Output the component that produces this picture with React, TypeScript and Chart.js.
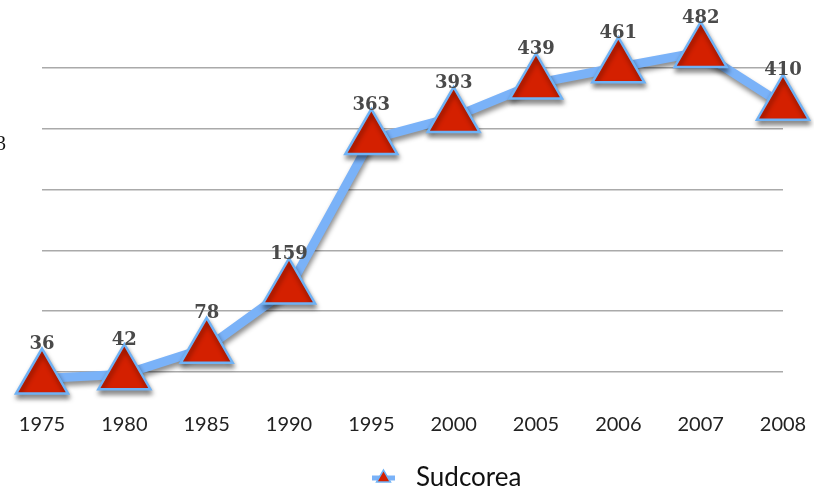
import React, { useEffect, useRef } from "react";
import { Chart, registerables } from "chart.js";

Chart.register(...registerables);

const years = ["1975", "1980", "1985", "1990", "1995", "2000", "2005", "2006", "2007", "2008"];
const sudcorea = [36, 42, 78, 159, 363, 393, 439, 461, 482, 410];
const seriesName = "Sudcorea";

const LINE_COLOR = "#7ab2f8";
const FILL_COLOR = "#d42000";
const BORDER_COLOR = "#6fb2f5";

const shadowPlugin = {
  id: "shadow",
  beforeDatasetsDraw(chart: any) {
    const ctx = chart.ctx;
    ctx.save();
    ctx.shadowColor = "rgba(0,0,0,0.45)";
    ctx.shadowBlur = 5;
    ctx.shadowOffsetX = 1;
    ctx.shadowOffsetY = 4;
  },
  afterDatasetsDraw(chart: any) {
    chart.ctx.restore();
  },
};

const labelPlugin = {
  id: "valueLabels",
  afterDatasetsDraw(chart: any) {
    const ctx = chart.ctx;
    const meta = chart.getDatasetMeta(0);
    const data = chart.data.datasets[0].data;
    ctx.save();
    ctx.font = "bold 18px 'DejaVu Serif'";
    ctx.fillStyle = "#4a4a4a";
    ctx.textAlign = "center";
    ctx.textBaseline = "middle";
    meta.data.forEach((pt: any, i: number) => {
      ctx.fillText(String(data[i]), pt.x, pt.y - 34);
    });
    ctx.restore();
  },
};

const legendPlugin = {
  id: "customLegend",
  afterDraw(chart: any) {
    const ctx = chart.ctx;
    const label = chart.data.datasets[0].label;
    const cy = chart.height - 15;
    const x0 = chart.width * 0.457;
    ctx.save();
    ctx.strokeStyle = LINE_COLOR;
    ctx.lineWidth = 5;
    ctx.beginPath();
    ctx.moveTo(x0, cy);
    ctx.lineTo(x0 + 23, cy);
    ctx.stroke();
    const tx = x0 + 11.5;
    const r = 8;
    ctx.beginPath();
    ctx.moveTo(tx, cy - r);
    ctx.lineTo(tx + r * 0.866, cy + r / 2);
    ctx.lineTo(tx - r * 0.866, cy + r / 2);
    ctx.closePath();
    ctx.fillStyle = FILL_COLOR;
    ctx.fill();
    ctx.lineWidth = 1.5;
    ctx.strokeStyle = BORDER_COLOR;
    ctx.stroke();
    ctx.font = "26px Lato";
    ctx.fillStyle = "#111";
    ctx.textAlign = "left";
    ctx.textBaseline = "middle";
    ctx.fillText(label, x0 + 44, cy);
    ctx.restore();
  },
};

export default function App() {
  const ref = useRef<HTMLCanvasElement>(null);
  useEffect(() => {
    if (!ref.current) return;
    const chart = new Chart(ref.current, {
      type: "line",
      data: {
        labels: years,
        datasets: [
          {
            label: seriesName,
            data: sudcorea,
            borderColor: LINE_COLOR,
            borderWidth: 9,
            backgroundColor: FILL_COLOR,
            pointStyle: "triangle",
            pointRadius: 30,
            pointBorderWidth: 2.5,
            pointBorderColor: BORDER_COLOR,
            pointBackgroundColor: FILL_COLOR,
            tension: 0,
            clip: false as any,
          },
        ],
      },
      options: {
        animation: false,
        responsive: true,
        maintainAspectRatio: false,
        layout: { autoPadding: false, padding: { left: 42, right: 31, top: 68, bottom: 58 } },
        scales: {
          x: {
            offset: false,
            grid: { display: false, drawTicks: false },
            border: { display: false },
            ticks: {
              color: "#222",
              font: { family: "Lato", size: 20 },
              padding: 41,
              maxRotation: 0,
              autoSkip: false,
            },
            afterFit(scale: any) {
              scale.paddingLeft = 0;
              scale.paddingRight = 0;
              scale.paddingTop = 0;
              scale.paddingBottom = 0;
              scale.height = 63;
            },
          },
          y: {
            min: 45,
            max: 460,
            grid: { color: "#aaaaaa", lineWidth: 1.5, drawTicks: false },
            border: { display: false },
            ticks: { display: false, stepSize: 83 },
          },
        },
        plugins: {
          legend: { display: false },
          tooltip: { enabled: false },
        },
      },
      plugins: [shadowPlugin, labelPlugin, legendPlugin],
    });
    return () => chart.destroy();
  }, []);
  return (
    <div style={{ position: "fixed", left: 0, top: 0, width: 814, height: 493, background: "#fff" }}>
      <canvas ref={ref} />
      <div
        style={{
          position: "absolute",
          left: -4,
          top: 132,
          fontFamily: "'Liberation Serif'",
          fontSize: 20,
          color: "#111",
        }}
      >
        3
      </div>
    </div>
  );
}
